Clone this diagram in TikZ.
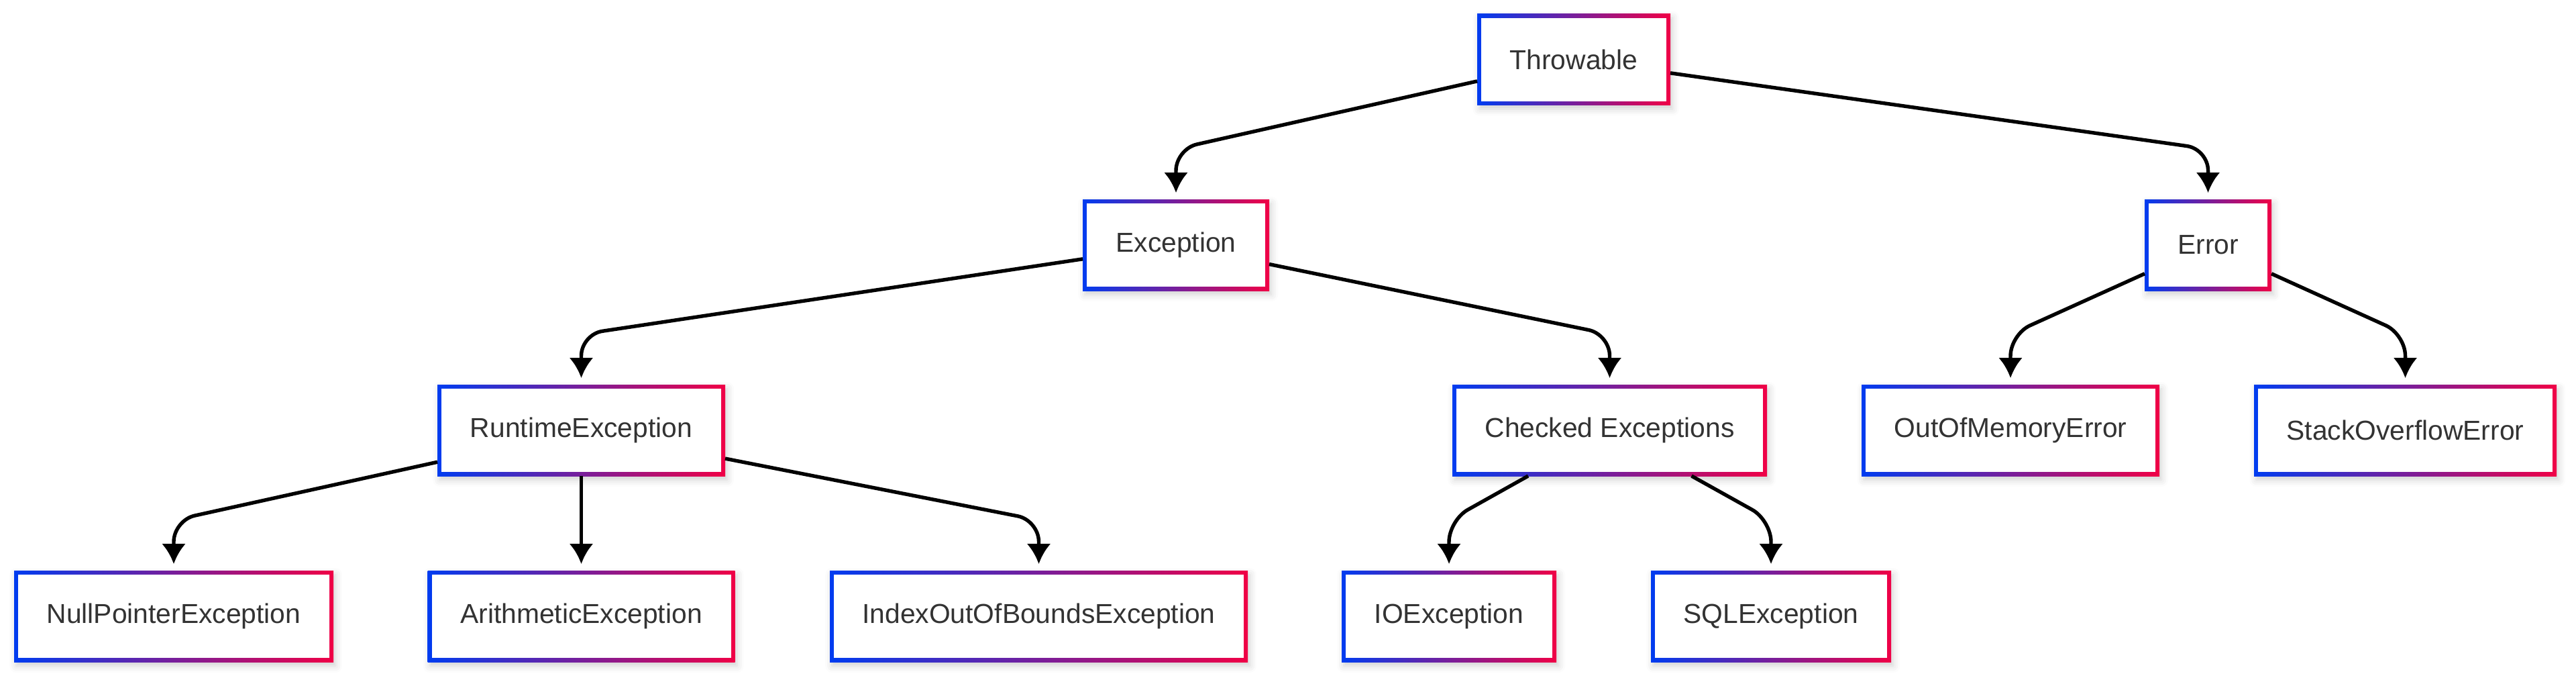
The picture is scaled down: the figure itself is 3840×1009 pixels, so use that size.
\documentclass[tikz,border=0pt]{standalone}
\usepackage{fontspec}
\setmainfont{Liberation Sans}
\usetikzlibrary{arrows.meta,shadows.blur,calc}
\definecolor{gblue}{RGB}{0,60,240}
\definecolor{gred}{RGB}{240,0,70}
\definecolor{txt}{RGB}{51,51,51}
\tikzset{
  cls/.style={rectangle, outer sep=0pt, inner sep=0pt, minimum height=34pt,
    left color=gblue, right color=gred,
    blur shadow={shadow xshift=0.8pt, shadow yshift=-1.5pt, shadow opacity=18, shadow blur radius=2.5pt},
    path picture={\fill[white] ([shift={(1.5pt,1.5pt)}]path picture bounding box.south west) rectangle ([shift={(-1.5pt,-1.5pt)}]path picture bounding box.north east);},
    text=txt, font=\fontsize{10.2pt}{12pt}\selectfont},
  edge/.style={line width=1.35pt, rounded corners=8pt, shorten >=2.5pt,
    -{Latex[length=7.5pt,width=9pt]}}
}
\begin{document}
\begin{tikzpicture}[x=0.25pt,y=-0.25pt]
\useasboundingbox (0,0) rectangle (3840,1009);
% row 1
\node[cls, minimum width=72pt] (thr) at (2346,88.5) {Throwable};
% row 2
\node[cls, minimum width=69.5pt] (exc) at (1753,365) {Exception};
\node[cls, minimum width=47.25pt] (err) at (3291.5,365) {Error};
% row 3
\node[cls, minimum width=107.25pt] (rt) at (866.5,641) {RuntimeException};
\node[cls, minimum width=117.25pt] (chk) at (2399.5,641) {Checked Exceptions};
\node[cls, minimum width=111pt] (oom) at (2997,641) {OutOfMemoryError};
\node[cls, minimum width=112.75pt] (soe) at (3585.5,641) {StackOverflowError};
% row 4
\node[cls, minimum width=119pt] (npe) at (259,918) {NullPointerException};
\node[cls, minimum width=114.5pt] (ari) at (866.5,918) {ArithmeticException};
\node[cls, minimum width=155.75pt] (ioob) at (1548.5,918) {IndexOutOfBoundsException};
\node[cls, minimum width=80pt] (io) at (2160,918) {IOException};
\node[cls, minimum width=89.5pt] (sql) at (2640,918) {SQLException};
% corner points
\foreach \n in {exc,err,rt,chk,oom,soe,npe,ioob,io,sql}
  \coordinate (c-\n) at ([yshift=18.75pt]\n.north);
% edges
\draw[edge] (thr) -- (c-exc) -- (exc);
\draw[edge] (thr) -- (c-err) -- (err);
\draw[edge] (exc) -- (c-rt) -- (rt);
\draw[edge] (exc) -- (c-chk) -- (chk);
\draw[edge] (err) -- (c-oom) -- (oom);
\draw[edge] (err) -- (c-soe) -- (soe);
\draw[edge] (rt) -- (c-npe) -- (npe);
\draw[edge] (rt) -- (ari);
\draw[edge] (rt) -- (c-ioob) -- (ioob);
\draw[edge] (chk) -- (c-io) -- (io);
\draw[edge] (chk) -- (c-sql) -- (sql);
\end{tikzpicture}
\end{document}
